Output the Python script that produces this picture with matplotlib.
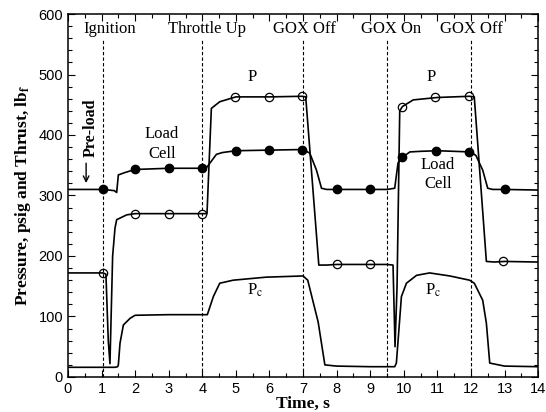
import matplotlib
matplotlib.use("Agg")
import matplotlib.pyplot as plt
from matplotlib.ticker import MultipleLocator

plt.rcParams['font.family'] = ['Liberation Serif', 'DejaVu Serif']
plt.rcParams['mathtext.fontset'] = 'stix'

# load cell thrust trace (lbf)
t_load = [0, 1.05, 1.38, 1.45, 1.5, 1.7, 2.0, 3.0, 4.0, 4.14, 4.42, 4.6, 5.0, 6.0, 7.0,
          7.2, 7.4, 7.55, 7.7, 8.0, 9.0, 9.5, 9.73, 9.83, 9.96, 10.18, 10.5, 11.0, 12.0,
          12.15, 12.35, 12.5, 12.65, 13.0, 14.0]
load = [310, 310, 308, 305, 334, 338, 343, 345, 345, 347, 368, 371, 374, 375, 376,
        370, 342, 312, 310, 310, 310, 310, 312, 354, 363, 372, 373, 374, 372,
        366, 342, 312, 310, 310, 309]
t_load_mk = [1.05, 2.0, 3.0, 4.0, 5.0, 6.0, 6.97, 8.0, 9.0, 9.96, 10.95, 11.95, 13.0]
load_mk = [310, 343, 345, 345, 374, 375, 376, 310, 310, 363, 374, 372, 310]

# supply pressure P (psig)
t_p = [0, 1.05, 1.13, 1.2, 1.25, 1.33, 1.4, 1.45, 1.75, 2.0, 3.0, 4.0, 4.14, 4.27,
       4.52, 5.0, 6.0, 6.97, 7.08, 7.47, 7.7, 8.0, 9.0, 9.5, 9.68, 9.74, 9.8, 9.88,
       9.96, 10.28, 11.0, 11.95, 12.1, 12.46, 12.7, 13.0, 14.0]
p = [172, 172, 170, 60, 22, 200, 246, 260, 268, 270, 270, 270, 270, 444,
     455, 463, 463, 464, 463, 185, 185, 186, 186, 186, 185, 50, 150, 440,
     447, 458, 462, 464, 463, 191, 190, 191, 190]
t_p_mk = [1.05, 2.0, 3.0, 4.0, 4.97, 5.98, 6.97, 8.0, 9.0, 9.95, 10.94, 11.93, 12.97]
p_mk = [172, 270, 270, 270, 463, 463, 464, 187, 187, 447, 463, 464, 192]

# chamber pressure Pc (psig)
t_pc = [0, 1.4, 1.48, 1.5, 1.55, 1.65, 1.85, 2.0, 3.0, 4.15, 4.33, 4.52, 4.92, 5.9,
        7.0, 7.14, 7.45, 7.65, 8.0, 9.0, 9.73, 9.78, 9.93, 10.08, 10.38, 10.77, 11.37,
        11.96, 12.1, 12.35, 12.46, 12.56, 13.0, 14.0]
pc = [16, 16, 17, 20, 56, 86, 97, 102, 103, 103, 133, 155, 160, 165,
      167, 160, 91, 20, 18, 17, 17, 23, 133, 155, 168, 172, 167,
      160, 155, 127, 89, 23, 18, 17]

events_t = [1.05, 4.0, 7.0, 9.5, 12.0]
event_labels = ['Ignition', 'Throttle Up', 'GOX Off', 'GOX On', 'GOX Off']
event_label_x = [1.25, 4.14, 7.03, 9.61, 12.03]

fig = plt.figure(figsize=(5.46, 4.12), dpi=100)
ax = fig.add_axes([0.1245, 0.085, 0.861, 0.881])

for t in events_t:
    ax.plot([t, t], [0, 557], color='black', lw=0.8, ls=(0, (3, 2)))
for x, lab in zip(event_label_x, event_labels):
    ax.text(x, 576, lab, ha='center', va='center', fontsize=12)

ax.plot(t_load, load, color='black', lw=1.2)
ax.plot(t_p, p, color='black', lw=1.2)
ax.plot(t_pc, pc, color='black', lw=1.2)
ax.plot(t_load_mk, load_mk, 'o', color='black', ms=6, ls='none')
ax.plot(t_p_mk, p_mk, 'o', mec='black', mfc='none', mew=0.9, ms=6, ls='none')

ax.text(5.47, 496, 'P', ha='center', va='center', fontsize=12)
ax.text(10.82, 496, 'P', ha='center', va='center', fontsize=12)
ax.text(2.8, 385, 'Load\nCell', ha='center', va='center', fontsize=12, linespacing=1.3)
ax.text(11.02, 335, 'Load\nCell', ha='center', va='center', fontsize=12, linespacing=1.3)
ax.text(5.57, 144, r'P$_\mathrm{c}$', ha='center', va='center', fontsize=12)
ax.text(10.87, 144, r'P$_\mathrm{c}$', ha='center', va='center', fontsize=12)

ax.text(0.68, 412, 'Pre-load', rotation=90, ha='center', va='center',
        fontsize=11.5, fontweight='bold')
ax.annotate('', xy=(0.54, 316), xytext=(0.54, 358),
            arrowprops=dict(arrowstyle='->', color='black', lw=1.0, mutation_scale=10))

ax.set_xlim(0, 14)
ax.set_ylim(0, 600)
ax.xaxis.set_major_locator(MultipleLocator(1))
ax.xaxis.set_minor_locator(MultipleLocator(0.5))
ax.yaxis.set_major_locator(MultipleLocator(100))
ax.yaxis.set_minor_locator(MultipleLocator(20))
ax.tick_params(which='both', direction='in', top=True, right=True, width=0.8)
ax.tick_params(which='major', length=5, labelsize=10.5)
ax.tick_params(which='minor', length=3)
for lab in ax.get_xticklabels() + ax.get_yticklabels():
    lab.set_family('Liberation Sans')
for s in ax.spines.values():
    s.set_linewidth(1.1)

ax.set_xlabel('Time, s', fontsize=12.5, fontweight='bold', labelpad=0)
ax.set_ylabel(r'Pressure, psig and Thrust, lb$_\mathbf{f}$', fontsize=12.5,
              fontweight='bold', labelpad=4)

fig.savefig('out.png', dpi=100)
